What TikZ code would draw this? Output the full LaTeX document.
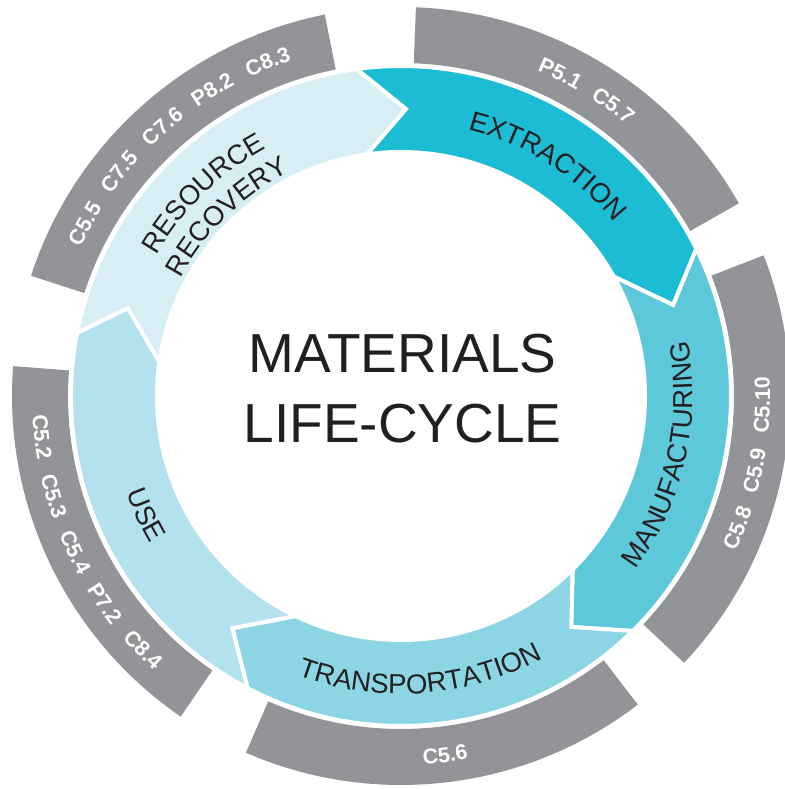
\documentclass[tikz,border=0pt]{standalone}
\usepackage{fontspec}
\setmainfont{Liberation Sans}
\usetikzlibrary{decorations.text}
\definecolor{cEX}{HTML}{1CBDD4}
\definecolor{cMA}{HTML}{5EC8DB}
\definecolor{cTR}{HTML}{8BD5E5}
\definecolor{cUS}{HTML}{B3E2EE}
\definecolor{cRR}{HTML}{D8EEF5}
\definecolor{cGR}{HTML}{939498}
\definecolor{cTX}{HTML}{231F20}
% #1 colour, start boundary: #2 outer, #3 inner, #4 tip ; end boundary: #5 outer, #6 inner, #7 tip
\newcommand{\ringseg}[7]{%
  \filldraw[segstyle, fill=#1] (#2:330pt) arc[start angle=#2, end angle=#5, radius=330pt]
    -- (#7:287pt) -- (#6:244pt) arc[start angle=#6, end angle=#3, radius=244pt]
    -- (#4:287pt) -- cycle;}
\newcommand{\graysec}[2]{%
  \fill[cGR] (#1:333pt) arc[start angle=#1, end angle=#2, radius=333pt]
    -- (#2:389pt) arc[start angle=#2, end angle=#1, radius=389pt] -- cycle;}
\newcommand{\gp}{{\hskip 16pt}}
\tikzset{
  segstyle/.style={draw=white, line width=4pt, line join=miter},
  seglab/.style={decorate, decoration={text along path, text align=center, text color=cTX,
      text={|\fontsize{27.5}{30}\selectfont|#1}}},
  graylab/.style={decorate, decoration={text along path, text align=center, text color=white,
      text={|\fontsize{21.5}{24}\selectfont\bfseries|#1}}},
  title/.style={text=cTX, font=\fontsize{55}{60}\selectfont, inner sep=0pt, anchor=base}
}
\begin{document}
\begin{tikzpicture}[x=1pt,y=1pt]
\useasboundingbox (-401,-393) rectangle (383,396);
% grey sectors
\graysec{101.3}{162}
\graysec{29.7}{87.8}
\graysec{-43.3}{21.2}
\graysec{-113.5}{-52.5}
\graysec{175.6}{235.5}
% coloured arrow ring
\ringseg{cRR}{169}{172}{162.2}{97.7}{98}{89}
\ringseg{cEX}{97.7}{98}{89}{26.5}{29.3}{18.5}
\ringseg{cMA}{26.5}{29.3}{18.5}{-45.4}{-45.3}{-53.6}
\ringseg{cTR}{-45.4}{-45.3}{-53.6}{-117.7}{-115.6}{-126}
\ringseg{cUS}{242.3}{244.4}{234}{169}{172}{162.2}
% segment labels
\path[seglab={EXTRACTION}] (100:275pt) arc[start angle=100, end angle=15, radius=275pt];
\path[seglab={MANUFACTURING}] (-58:292pt) arc[start angle=-58, end angle=32.4, radius=292pt];
\path[seglab={TRANSPORTATION}] (-130:298pt) arc[start angle=-130, end angle=-42, radius=298pt];
\path[seglab={USE}] (180:291pt) arc[start angle=180, end angle=230, radius=291pt];
\path[seglab={RESOURCE}] (174.3:282pt) arc[start angle=174.3, end angle=94.3, radius=282pt];
\path[seglab={RECOVERY}] (176.2:250pt) arc[start angle=176.2, end angle=92.2, radius=250pt];
% grey labels
\path[graylab={C5.5\gp C7.5\gp C7.6\gp P8.2\gp C8.3}] (166.6:353pt) arc[start angle=166.6, end angle=96.6, radius=353pt];
\path[graylab={P5.1\gp C5.7}] (90:353pt) arc[start angle=90, end angle=27.5, radius=353pt];
\path[graylab={C5.8\gp C5.9\gp C5.10}] (-45:369pt) arc[start angle=-45, end angle=23, radius=369pt];
\path[graylab={C5.6}] (-113:369pt) arc[start angle=-113, end angle=-53, radius=369pt];
\path[graylab={C5.2\gp C5.3\gp C5.4\gp P7.2\gp C8.4}] (170.5:369pt) arc[start angle=170.5, end angle=240.5, radius=369pt];
% title
\node[title] (t1) at (1.5,23) {MATERIALS};
\node[title] (t2) at (1.5,-46) {LIFE-CYCLE};
\end{tikzpicture}
\end{document}
